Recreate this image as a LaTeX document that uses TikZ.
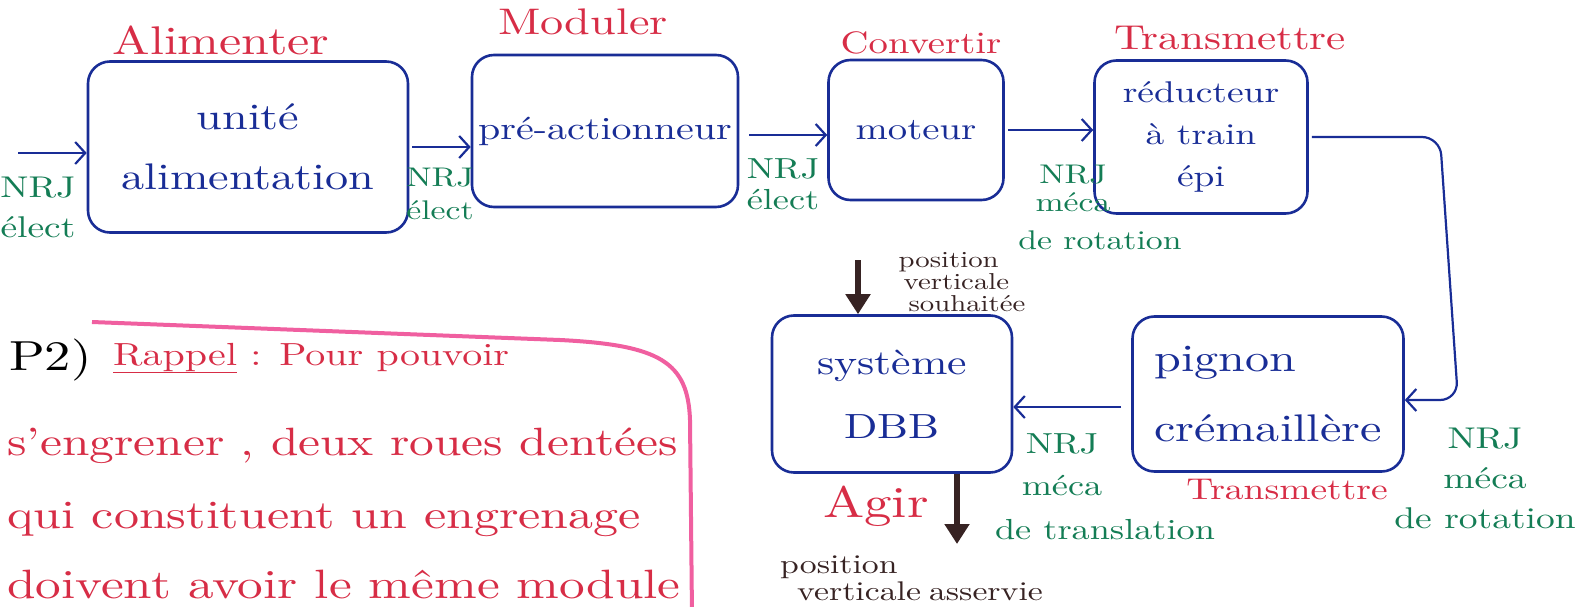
\documentclass[tikz,border=0pt]{standalone}
\usepackage{fontspec}
\setmainfont{lmroman10-regular}[Extension=.otf, FakeStretch=1.25]
\usetikzlibrary{arrows.meta}
\definecolor{penblue}{RGB}{25,45,150}
\definecolor{penred}{RGB}{215,45,70}
\definecolor{pengreen}{RGB}{20,125,85}
\definecolor{pendark}{RGB}{55,35,35}
\definecolor{penpink}{RGB}{240,95,160}
\begin{document}
\begin{tikzpicture}[x=1pt,y=-1pt,
  box/.style={draw=penblue, line width=2.6pt, rounded corners=22pt, text=penblue, align=center, inner sep=0pt},
  flow/.style={draw=penblue, line width=2.2pt, -{Straight Barb[length=10pt,width=22pt]}},
  bigarrow/.style={draw=pendark, line width=6pt, -{Triangle[length=20pt,width=24pt]}},
  fname/.style={text=penred, inner sep=0pt},
  nrj/.style={text=pengreen, align=center, inner sep=0pt},
  darklbl/.style={text=pendark, align=left, inner sep=0pt},
  note/.style={text=penred, anchor=base west, inner sep=0pt}]
\useasboundingbox (0,0) rectangle (1577,607);

% boxes
\node[box, minimum width=320pt, minimum height=171pt, font=\fontsize{37}{60}\selectfont] (b1) at (248,147) {unité\\alimentation};
\node[box, minimum width=266pt, minimum height=152pt, font=\fontsize{32}{40}\selectfont] (b2) at (605,131) {pré-actionneur};
\node[box, minimum width=175pt, minimum height=140pt, font=\fontsize{31}{40}\selectfont] (b3) at (916,130) {moteur};
\node[box, minimum width=213pt, minimum height=153pt, font=\fontsize{30}{42}\selectfont] (b4) at (1201,137) {réducteur\\à train\\épi};
\node[box, minimum width=271pt, minimum height=155pt, align=left, font=\fontsize{38.5}{70}\selectfont] (b5) at (1268,394) {pignon\\crémaillère};
\node[box, minimum width=240pt, minimum height=157pt, font=\fontsize{35}{64}\selectfont] (b6) at (892,394) {système\\DBB};

% function names
\node[fname, font=\fontsize{40}{44}\selectfont] (f1) at (221,40) {Alimenter};
\node[fname, font=\fontsize{37}{44}\selectfont] (f2) at (583,22) {Moduler};
\node[fname, font=\fontsize{31}{44}\selectfont] (f3) at (921,43) {Convertir};
\node[fname, font=\fontsize{34.5}{44}\selectfont] (f4) at (1230,38) {Transmettre};
\node[fname, font=\fontsize{30}{44}\selectfont] (f5) at (1287,490) {Transmettre};
\node[fname, font=\fontsize{44}{44}\selectfont] (f6) at (876,506) {Agir};

% energy flows
\coordinate (in1) at (18,153);
\draw[flow] (in1) -- (in1 -| b1.west);
\draw[flow, shorten <=3pt] (b1.east) -- (b1.east -| b2.west);
\draw[flow, shorten <=10pt] ([yshift=-4pt]b2.east) -- ([yshift=-4pt]b2.east -| b3.west);
\draw[flow, shorten <=3pt] (b3.east) -- (b3.east -| b4.west);
\coordinate (c1) at (1440,137);
\coordinate (c2) at (1458,400);
\draw[flow, rounded corners=18pt, shorten <=3pt] (b4.east) -- (c1) -- (c2) -- ([yshift=-6pt]b5.east);
\draw[flow, shorten <=10pt] ([yshift=-13pt]b5.west) -- ([yshift=-13pt]b5.west -| b6.east);

\node[nrj, font=\fontsize{30}{40}\selectfont] (l1) at (38,207) {NRJ\\élect};
\node[nrj, font=\fontsize{27}{33}\selectfont] (l2) at (440,194) {NRJ\\élect};
\node[nrj, font=\fontsize{29}{31}\selectfont] (l3) at (783,184) {NRJ\\élect};
\node[nrj, font=\fontsize{27}{28}\selectfont] (l4) at (1073,188) {NRJ\\méca};
\node[nrj, font=\fontsize{27}{30}\selectfont] (l4b) at (1100,240) {de rotation};
\node[nrj, font=\fontsize{30}{40}\selectfont] (l5) at (1485,478) {NRJ\\méca\\de rotation};
\node[nrj, font=\fontsize{29}{42}\selectfont] (l6) at (1062,465) {NRJ\\méca};
\node[nrj, font=\fontsize{29}{40}\selectfont] (l6b) at (1105,530) {de translation};

% information arrows
\coordinate (s1) at (858,260);
\draw[bigarrow] (s1) -- (s1 |- b6.north);
\node[darklbl, font=\fontsize{23}{22}\selectfont] (d1) at (962,282) {position\\\hspace*{5pt}verticale\\\hspace*{10pt}souhaitée};
\coordinate (o1) at (957,544);
\draw[bigarrow] (b6.south -| o1) -- (o1);
\node[darklbl, anchor=west, font=\fontsize{27}{27}\selectfont] (d2) at (780,578) {position\\\hspace*{17pt}verticale\hspace*{8pt}asservie};

% note
\node[note, text=black, font=\fontsize{42}{50}\selectfont] (p2) at (9,370) {P2)};
\node[note, font=\fontsize{32}{50}\selectfont] (n1) at (113,365) {\underline{Rappel} : Pour pouvoir};
\node[note, font=\fontsize{39.5}{50}\selectfont] (n2) at (7,455) {s'engrener , deux roues dentées};
\node[note, font=\fontsize{40}{50}\selectfont] (n3) at (7,528) {qui constituent un engrenage};
\node[note, font=\fontsize{41}{50}\selectfont] (n4) at (7,598) {doivent avoir le même module};
\coordinate (k1) at (92,322);
\coordinate (k2) at (560,340);
\coordinate (k3) at (690,420);
\coordinate (k4) at (692,615);
\draw[penpink, line width=4pt] (k1) -- (k2) .. controls (660,345) and (688,362) .. (k3) -- (k4);
\end{tikzpicture}
\end{document}
